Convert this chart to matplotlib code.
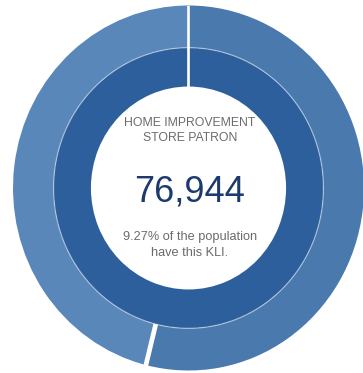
import numpy as np
import matplotlib
matplotlib.use("Agg")
import matplotlib.pyplot as plt

# ---- data ----
outer_labels = ["Segment A", "Segment B"]
outer_values = [53.9, 46.1]
inner_values = [100.0]
title_lines = ["HOME IMPROVEMENT", "STORE PATRON"]
count_text = "76,944"
pct_value = 9.27
sub_lines = [f"{pct_value:.2f}% of the population", "have this KLI."]

outer_colors = ["#4a79ad", "#5a87b9"]
inner_colors = ["#2d5f9c"]

W, H = 363, 373
fig = plt.figure(figsize=(W / 100, H / 100), dpi=100)
cx, cy = 188.5, 188.0      # center (px, from top)
rx, ry = 175.5, 182.5      # outer radii (px)
ax = fig.add_axes([(cx - rx) / W, (H - cy - ry) / H, 2 * rx / W, 2 * ry / H])

r_mid = 0.769
r_hole = 0.556

ax.pie(outer_values, radius=1.0, colors=outer_colors, startangle=90,
       counterclock=False,
       wedgeprops=dict(width=1.0 - r_mid, edgecolor="none", linewidth=0))
ax.pie(inner_values, radius=r_mid, colors=inner_colors, startangle=90,
       counterclock=False,
       wedgeprops=dict(width=r_mid - r_hole, edgecolor="none", linewidth=0))

# thin light separator between rings
t = np.linspace(0, 2 * np.pi, 400)
ax.plot(r_mid * np.cos(t), r_mid * np.sin(t), color="white", alpha=0.45, lw=0.9)

# white gaps at segment boundaries
cum = np.cumsum([0] + outer_values)
for i, c in enumerate(cum[:-1]):
    ang = np.deg2rad(90 - 360 * c / sum(outer_values))
    if i == 0:
        r0, lw = r_hole - 0.01, 1.9
    else:
        r0, lw = r_mid, 3.4
    ax.plot([r0 * np.cos(ang), 1.02 * np.cos(ang)],
            [r0 * np.sin(ang), 1.02 * np.sin(ang)],
            color="white", lw=lw, solid_capstyle="butt")

ax.set_aspect("auto")
ax.set_xlim(-1, 1)
ax.set_ylim(-1, 1)
ax.axis("off")

xc = 190 / W
font = "Liberation Sans"
fig.text(xc, 1 - 126 / H, title_lines[0], ha="center", va="baseline",
         fontsize=8.8, color="#6b6b6b", family=font)
fig.text(xc, 1 - 140.7 / H, title_lines[1], ha="center", va="baseline",
         fontsize=8.8, color="#6b6b6b", family=font)
fig.text(xc, 1 - 201 / H, count_text, ha="center", va="baseline",
         fontsize=26, color="#1c3a6e", family=font)
fig.text(xc, 1 - 240 / H, sub_lines[0], ha="center", va="baseline",
         fontsize=9.2, color="#6b6b6b", family=font)
fig.text(xc, 1 - 256.5 / H, sub_lines[1], ha="center", va="baseline",
         fontsize=9.2, color="#6b6b6b", family=font)

fig.savefig("out.png", dpi=100)
